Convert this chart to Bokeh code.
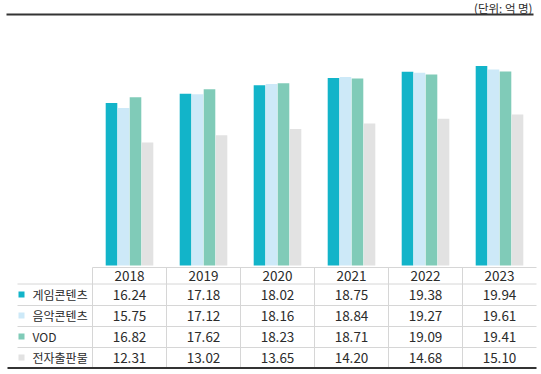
from bokeh.plotting import figure
from bokeh.models import Range1d, ColumnDataSource
from bokeh.core.properties import value
from bokeh.embed import file_html
from bokeh.resources import INLINE

# ---- data ----
years = ["2018", "2019", "2020", "2021", "2022", "2023"]
series_names = ["게임콘텐츠", "음악콘텐츠", "VOD", "전자출판물"]
game = [16.24, 17.18, 18.02, 18.75, 19.38, 19.94]
music = [15.75, 17.12, 18.16, 18.84, 19.27, 19.61]
vod = [16.82, 17.62, 18.23, 18.71, 19.09, 19.41]
ebook = [12.31, 13.02, 13.65, 14.20, 14.68, 15.10]
unit_label = "(단위: 억 명)"

colors = ["#12b4c9", "#cde9f8", "#80cbb8", "#e2e2e2"]
series = [game, music, vod, ebook]

FONT = "Noto Sans CJK KR"
COL = 74.0   # px per category column
X0 = 92.0    # px where the first category column starts
Y0 = 265.0   # px of value 0
PPU = 10.0   # px per unit
W, H = 541, 374


def px(xp):
    return (xp - X0) / COL


def py(yp):
    return (Y0 - yp) / PPU


p = figure(width=W, height=H,
           x_range=Range1d(px(0), px(W)),
           y_range=Range1d(py(H), py(0)),
           output_backend="svg", toolbar_location=None, min_border=0)
p.axis.visible = False
p.grid.visible = False
p.outline_line_color = None
p.background_fill_color = "white"

# ---- bars ----
xc = [i + 0.5 for i in range(len(years))]
offsets = [-18 / COL, -6 / COL, 6 / COL, 18 / COL]
bw = 11.6 / COL
for vals, col, off in zip(series, colors, offsets):
    src = ColumnDataSource(dict(x=[x + off for x in xc], top=vals))
    p.vbar(x="x", top="top", bottom=0, width=bw, source=src,
           fill_color=col, line_color=None)

# ---- table grid ----
grid_col = "#d6d6d6"
row_lines = [py(283.5), py(305), py(326), py(347)]
p.segment(x0=[0], y0=[py(267)], x1=[px(536)], y1=[py(267)], line_color=grid_col, line_width=1)
p.segment(x0=[px(17)] * len(row_lines), y0=row_lines, x1=[px(536)] * len(row_lines), y1=row_lines,
          line_color=grid_col, line_width=1)
vx = list(range(len(years)))
p.segment(x0=vx, y0=[py(267)] * len(vx), x1=vx, y1=[py(367)] * len(vx),
          line_color=grid_col, line_width=1)
# thick bottom line
p.segment(x0=[px(7)], y0=[py(367.5)], x1=[px(536)], y1=[py(367.5)], line_color="#333333", line_width=2)

# header years
p.text(x=xc, y=[py(275.5)] * len(years), text=years, text_align="center",
       text_baseline="middle", text_font=value(FONT), text_font_size="13.5px",
       text_color="#2b2b2b")

row_y = [py(294), py(315), py(336), py(357)]
for vals, name, col, ry in zip(series, series_names, colors, row_y):
    p.text(x=xc, y=[ry] * len(vals), text=["%.2f" % v for v in vals],
           text_align="center", text_baseline="middle", text_font=value(FONT),
           text_font_size="13.5px", text_color="#2b2b2b")
    p.scatter(x=[px(21)], y=[ry], marker="square", size=6,
              fill_color=col, line_color=None)
    p.text(x=[px(32)], y=[ry], text=[name], text_align="left",
           text_baseline="middle", text_font=value(FONT), text_font_size="12px",
           text_color="#2b2b2b")

# ---- top unit line and label ----
p.segment(x0=[px(6)], y0=[py(14)], x1=[px(533)], y1=[py(14)],
          line_color="#333333", line_width=2)
p.text(x=[px(532)], y=[py(7.5)], text=[unit_label], text_align="right",
       text_baseline="middle", text_font=value(FONT), text_font_size="11.5px",
       text_color="#2b2b2b")

open("out.html", "w").write(file_html(p, INLINE))
